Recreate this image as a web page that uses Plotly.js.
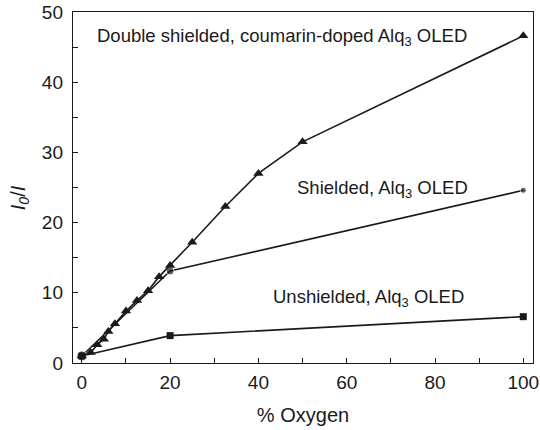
<!DOCTYPE html>
<html>
<head>
<meta charset="utf-8">
<script src="https://cdn.plot.ly/plotly-3.0.1.min.js"></script>
<style>html,body{margin:0;padding:0;background:#fff}#chart{width:540px;height:430px}</style>
</head>
<body>
<div id="chart"></div>
<script>
// % oxygen and I0/I values
const doubleX = [0, 2, 3.5, 5, 6, 7.5, 10, 12.5, 15, 17.5, 20, 25, 32.5, 40, 50, 100];
const doubleY = [1.0, 1.5, 2.6, 3.4, 4.5, 5.6, 7.4, 8.9, 10.3, 12.3, 13.9, 17.2, 22.3, 27.0, 31.5, 46.6];
const shieldedX = [0, 20, 100];
const shieldedY = [1.0, 13.1, 24.6];
const unshieldedX = [0, 20, 100];
const unshieldedY = [1.0, 3.9, 6.6];
const labels = [
  "Double shielded, coumarin-doped Alq<sub>3</sub> OLED",
  "Shielded, Alq<sub>3</sub> OLED",
  "Unshielded, Alq<sub>3</sub> OLED"
];

const font = "Liberation Sans, Arial, Helvetica, sans-serif";
const ink = "#1a1a1a";

const traces = [
  {x: unshieldedX, y: unshieldedY, mode: "lines+markers", line: {color: ink, width: 1.6},
   marker: {symbol: "square", size: 7, color: ink}},
  {x: shieldedX, y: shieldedY, mode: "lines+markers", line: {color: ink, width: 1.6},
   marker: {symbol: "circle", size: [10, 8, 6], color: ink}},
  {x: doubleX, y: doubleY, mode: "lines+markers", line: {color: ink, width: 1.6},
   marker: {symbol: "triangle-up", size: 9, color: ink}}
];

const annFont = {family: font, size: 18.5, color: ink};

const layout = {
  width: 540, height: 430,
  margin: {l: 73, r: 7, t: 12, b: 67},
  paper_bgcolor: "#fff", plot_bgcolor: "#fff",
  showlegend: false,
  font: {family: font, size: 19, color: ink},
  xaxis: {
    range: [-2, 102.2], showgrid: false, zeroline: false,
    showline: true, linecolor: ink, linewidth: 1.2, mirror: true,
    ticks: "inside", ticklen: 5, tickcolor: ink, tickwidth: 1,
    tickmode: "linear", tick0: 0, dtick: 20,
    minor: {ticks: "inside", ticklen: 5, tickcolor: ink, dtick: 10, tick0: 0, showgrid: false},
    tickfont: {family: font, size: 19, color: ink},
    ticklabelstandoff: 2,
    title: {text: "% Oxygen", font: {family: font, size: 20, color: ink}, standoff: 16}
  },
  yaxis: {
    range: [0, 50], showgrid: false, zeroline: false,
    showline: true, linecolor: ink, linewidth: 1.2, mirror: true,
    ticks: "inside", ticklen: 5, tickcolor: ink, tickwidth: 1,
    tickmode: "linear", tick0: 0, dtick: 10,
    minor: {ticks: "inside", ticklen: 5, tickcolor: ink, dtick: 5, tick0: 0, showgrid: false},
    tickfont: {family: font, size: 19, color: ink},
    ticklabelstandoff: 5,
    title: {text: ""}
  },
  annotations: [
    {text: "<i>I</i><sub><i>0</i></sub>/<i>I</i>", textangle: -90,
     x: -0.117, y: 0.47, xref: "paper", yref: "paper", xanchor: "center", yanchor: "middle",
     showarrow: false, font: {family: font, size: 20, color: ink}},
    {text: labels[0], x: 0.455, y: 0.93, xref: "paper", yref: "paper", xanchor: "center", yanchor: "middle",
     showarrow: false, font: annFont},
    {text: labels[1], x: 0.673, y: 0.496, xref: "paper", yref: "paper", xanchor: "center", yanchor: "middle",
     showarrow: false, font: annFont},
    {text: labels[2], x: 0.642, y: 0.185, xref: "paper", yref: "paper", xanchor: "center", yanchor: "middle",
     showarrow: false, font: annFont}
  ]
};

Plotly.newPlot("chart", traces, layout, {staticPlot: true, displayModeBar: false});
</script>
</body>
</html>
